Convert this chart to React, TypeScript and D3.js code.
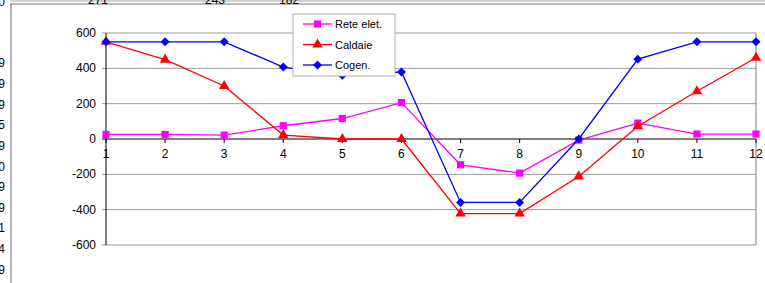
import React from 'react';
import * as d3 from 'd3';

const months = [1, 2, 3, 4, 5, 6, 7, 8, 9, 10, 11, 12];
const reteElet = [26, 26, 22, 75, 116, 206, -146, -193, -6, 90, 28, 28];
const caldaie = [550, 449, 300, 22, 0, 0, -422, -422, -212, 72, 270, 460];
const cogen = [550, 550, 550, 407, 360, 379, -359, -359, 0, 452, 550, 550];
const yTicks = [-600, -400, -200, 0, 200, 400, 600];

// bits of the spreadsheet behind the chart
const topCells = [{label: '271', x: 98}, {label: '243', x: 215}, {label: '182', x: 289}];
const leftCells = ['0', '9', '9', '9', '5', '9', '0', '9', '9', '1', '4', '9'];
const leftRows = [6, 67, 88, 109, 129, 150, 171, 191, 212, 232, 253, 274];

// rotate = 45 turns the square into an Excel style diamond
const series = [
    {name: 'Rete elet.', values: reteElet, color: '#FF00FF', symbol: d3.symbolSquare, size: 52, rotate: 0},
    {name: 'Caldaie', values: caldaie, color: '#FF0000', symbol: d3.symbolTriangle, size: 48, rotate: 0},
    {name: 'Cogen.', values: cogen, color: '#0000FF', symbol: d3.symbolSquare, size: 40, rotate: 45},
];

const font = '"Liberation Sans", Arial, sans-serif';

const App = () => {
    const width = 765, height = 283;
    const x = d3.scaleLinear().domain([1, 12]).range([106, 756]);
    const y = d3.scaleLinear().domain([-600, 600]).range([245, 33]);
    const [x0, x1] = x.range();
    const [yb, yt] = y.range();

    const line = d3.line<number>()
        .x((d, i) => x(months[i]))
        .y(d => y(d));

    const legend = {x: 293, y: 14, w: 102, h: 62};

    return (
        <svg width={width} height={height}
             style={{position: 'absolute', left: 0, top: 0, background: '#fff'}}
             fontFamily={font}>
            {/* sheet cells */}
            <line x1={10} x2={width} y1={1} y2={1} stroke="#a0a0a0"/>
            <line x1={10} x2={width} y1={4} y2={4} stroke="#707070"/>
            <line x1={11} x2={11} y1={4} y2={height} stroke="#707070"/>
            {topCells.map(c => (
                <text key={c.label} x={c.x} y={4} fontSize={12} textAnchor="middle" fill="#000">{c.label}</text>
            ))}
            {leftCells.map((c, i) => (
                <text key={i} x={5} y={leftRows[i]} fontSize={12} textAnchor="end" fill="#000">{c}</text>
            ))}

            {/* grid */}
            {yTicks.map(t => (
                <g key={t}>
                    <line x1={x0 - 4} x2={x1} y1={y(t)} y2={y(t)}
                          stroke={t === 0 ? '#000' : '#999'} strokeWidth={1}/>
                    <text x={96} y={y(t) + 4} fontSize={12} textAnchor="end" fill="#000">{t}</text>
                </g>
            ))}
            <line x1={x1} x2={x1} y1={yt} y2={yb} stroke="#808080"/>
            <line x1={x0} x2={x0} y1={yt} y2={yb} stroke="#000"/>
            {months.map(m => (
                <g key={m}>
                    <line x1={x(m)} x2={x(m)} y1={y(0)} y2={y(0) + 4} stroke="#000"/>
                    <text x={x(m)} y={158} fontSize={12} textAnchor="middle" fill="#000">{m}</text>
                </g>
            ))}

            {/* series */}
            {series.map(s => (
                <g key={s.name}>
                    <path d={line(s.values) || ''} fill="none" stroke={s.color} strokeWidth={1.3}/>
                    {s.values.map((v, i) => (
                        <path key={i} d={d3.symbol(s.symbol, s.size)() || ''}
                              transform={`translate(${x(months[i])},${y(v)}) rotate(${s.rotate})`} fill={s.color}/>
                    ))}
                </g>
            ))}

            {/* legend */}
            <rect x={legend.x} y={legend.y} width={legend.w} height={legend.h} fill="#fff" stroke="#b0b0b0"/>
            {series.map((s, i) => {
                const ly = legend.y + 10 + i * 20.5;
                return (
                    <g key={s.name}>
                        <line x1={303} x2={332} y1={ly} y2={ly} stroke={s.color} strokeWidth={1.3}/>
                        <path d={d3.symbol(s.symbol, s.size)() || ''}
                              transform={`translate(317.5,${ly}) rotate(${s.rotate})`} fill={s.color}/>
                        <text x={335} y={ly + 4} fontSize={11} fill="#000">{s.name}</text>
                    </g>
                );
            })}
        </svg>
    );
};

export default App;
